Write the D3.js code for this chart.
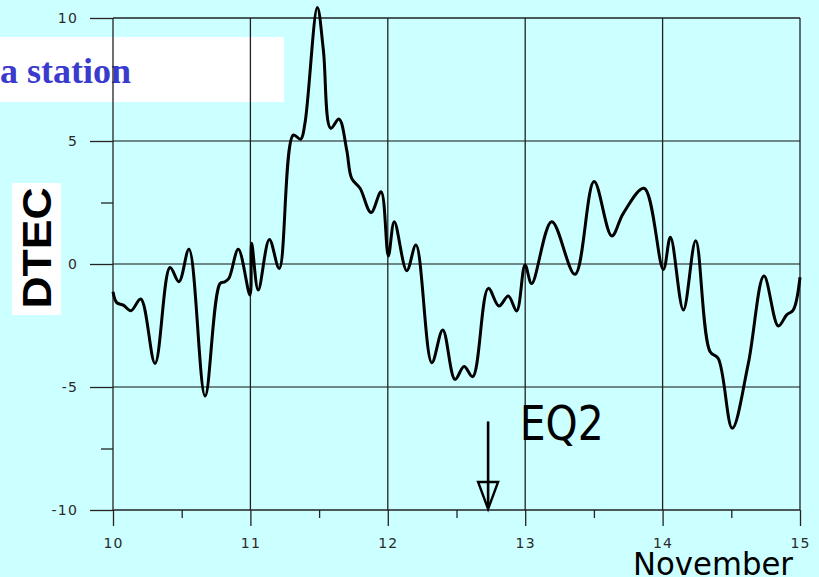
<!DOCTYPE html>
<html>
<head>
<meta charset="utf-8">
<script src="https://cdn.jsdelivr.net/npm/d3@7/dist/d3.min.js"></script>
<style>
  html, body { margin: 0; padding: 0; background: #ccffff; }
  svg { display: block; }
</style>
</head>
<body>
<svg id="chart" width="819" height="577"></svg>
<script>
// DTEC time series, 10–15 November (day of month, fractional)
const days = [
  10.000, 10.027, 10.075, 10.131, 10.202, 10.306, 10.415, 10.480, 10.553, 10.670,
  10.779, 10.815, 10.844, 10.912, 10.997, 11.009, 11.057, 11.138, 11.210,
  11.312, 11.366, 11.397, 11.487, 11.531, 11.584, 11.645, 11.701, 11.737, 11.798,
  11.878, 11.951, 12.004, 12.047, 12.138, 12.205, 12.320, 12.400, 12.489, 12.555,
  12.618, 12.731, 12.809, 12.877, 12.938, 12.999, 13.047, 13.193, 13.362, 13.501,
  13.630, 13.714, 13.865, 14.005, 14.057, 14.151, 14.241, 14.345, 14.405, 14.507,
  14.624, 14.738, 14.842, 14.903, 14.951, 15.000
];
const dtec = [
  -1.13, -1.57, -1.67, -1.90, -1.42, -4.04, -0.14, -0.72, 0.60, -5.37,
  -0.79, -0.72, -0.58, 0.60, -1.26, 0.84, -1.06, 1.00, -0.18,
  5.24, 5.07, 5.72, 10.43, 8.70, 5.52, 5.89, 4.63, 3.48, 3.08,
  2.09, 2.94, 0.33, 1.72, -0.27, 0.77, -4.01, -2.68, -4.69, -4.17,
  -4.58, -0.99, -1.71, -1.30, -1.91, -0.04, -0.79, 1.72, -0.42, 3.35,
  1.14, 2.06, 3.08, -0.22, 1.09, -1.87, 0.95, -3.56, -3.84, -6.68,
  -4.04, -0.49, -2.52, -2.07, -1.87, -0.54
];

const xTicks = [10, 11, 12, 13, 14, 15];
const xMinorTicks = [10.5, 11.5, 12.5, 13.5, 14.5];
const yTicks = [-10, -5, 0, 5, 10];
const yMinorTicks = [-7.5, 2.5];

// Earthquake marker
const eqLabel = "EQ2";
const eqDay = 12.73;
const eqArrowTop = -6.4;

const svg = d3.select("#chart");

const x = d3.scaleLinear().domain([10, 15]).range([113, 800]);
const y = d3.scaleLinear().domain([-10, 10]).range([510, 18]);

// Tick labels use a plain hyphen for negatives
const fmt = d => String(d);

// Title strip
svg.append("rect").attr("x", 0).attr("y", 37).attr("width", 284).attr("height", 65).attr("fill", "#ffffff");
svg.append("text")
  .attr("x", 0).attr("y", 83)
  .attr("font-family", "Liberation Serif, serif")
  .attr("font-weight", "bold")
  .attr("font-size", 36)
  .attr("fill", "#3a3acc")
  .text("a station");

// Horizontal grid lines
svg.append("g").selectAll("line")
  .data([-5, 0, 5])
  .join("line")
  .attr("x1", x(10)).attr("x2", x(15))
  .attr("y1", d => y(d)).attr("y2", d => y(d))
  .attr("stroke", "#4f6060").attr("stroke-width", 1.6);

// Vertical grid lines
svg.append("g").selectAll("line")
  .data([11, 12, 13, 14])
  .join("line")
  .attr("x1", d => x(d)).attr("x2", d => x(d))
  .attr("y1", y(10)).attr("y2", y(-10))
  .attr("stroke", "#222").attr("stroke-width", 1.3);

const tickFont = "DejaVu Sans, sans-serif";

// Left axis
const yAxis = svg.append("g")
  .attr("transform", `translate(${x(10)},0)`)
  .call(d3.axisLeft(y).tickValues(yTicks).tickSize(23).tickPadding(12).tickFormat(fmt));
yAxis.select(".domain").remove();
yAxis.selectAll(".tick line").attr("stroke", "#222").attr("stroke-width", 1.3);
yAxis.selectAll(".tick text")
  .attr("font-family", tickFont).attr("font-size", 14)
  .attr("letter-spacing", 1.2).attr("fill", "#2a2a2a");

const yMinor = svg.append("g")
  .attr("transform", `translate(${x(10)},0)`)
  .call(d3.axisLeft(y).tickValues(yMinorTicks).tickSize(12).tickFormat(""));
yMinor.select(".domain").remove();
yMinor.selectAll(".tick line").attr("stroke", "#222").attr("stroke-width", 1.3);

// Bottom axis
const xAxis = svg.append("g")
  .attr("transform", `translate(0,${y(-10)})`)
  .call(d3.axisBottom(x).tickValues(xTicks).tickSize(16).tickPadding(12).tickFormat(fmt));
xAxis.select(".domain").remove();
xAxis.selectAll(".tick line").attr("stroke", "#222").attr("stroke-width", 1.3);
xAxis.selectAll(".tick text")
  .attr("font-family", tickFont).attr("font-size", 14)
  .attr("letter-spacing", 1.2).attr("fill", "#2a2a2a");

const xMinor = svg.append("g")
  .attr("transform", `translate(0,${y(-10)})`)
  .call(d3.axisBottom(x).tickValues(xMinorTicks).tickSize(8).tickFormat(""));
xMinor.select(".domain").remove();
xMinor.selectAll(".tick line").attr("stroke", "#222").attr("stroke-width", 1.3);

// Plot frame
const frame = svg.append("g").attr("stroke", "#222").attr("stroke-width", 1.3);
frame.append("line").attr("x1", x(10)).attr("x2", x(15)).attr("y1", y(10)).attr("y2", y(10));
frame.append("line").attr("x1", x(10)).attr("x2", x(15)).attr("y1", y(-10)).attr("y2", y(-10));
frame.append("line").attr("x1", x(10)).attr("x2", x(10)).attr("y1", y(10)).attr("y2", y(-10));
frame.append("line").attr("x1", x(15)).attr("x2", x(15)).attr("y1", y(10)).attr("y2", y(-10));

// DTEC curve
const pts = days.map((d, i) => [d, dtec[i]]);
const line = d3.line()
  .x(d => x(d[0]))
  .y(d => y(d[1]))
  .curve(d3.curveCatmullRom.alpha(0.5));
svg.append("path")
  .datum(pts)
  .attr("d", line)
  .attr("fill", "none")
  .attr("stroke", "#000")
  .attr("stroke-width", 3)
  .attr("stroke-linejoin", "round");

// Earthquake arrow
const ax = x(eqDay);
const tipY = y(-10);
svg.append("line")
  .attr("x1", ax).attr("x2", ax)
  .attr("y1", y(eqArrowTop)).attr("y2", tipY - 27)
  .attr("stroke", "#000").attr("stroke-width", 2.6);
svg.append("path")
  .attr("d", `M${ax - 10},${tipY - 28} L${ax + 10},${tipY - 28} L${ax},${tipY - 1} Z`)
  .attr("fill", "#ccffff").attr("stroke", "#000").attr("stroke-width", 2.4)
  .attr("stroke-linejoin", "miter");
svg.append("line")
  .attr("x1", ax).attr("x2", ax)
  .attr("y1", tipY - 28).attr("y2", tipY - 2)
  .attr("stroke", "#000").attr("stroke-width", 2.6);

svg.append("text")
  .attr("x", x(12.96)).attr("y", y(-7.17))
  .attr("font-family", "DejaVu Sans, sans-serif")
  .attr("font-size", 48)
  .attr("textLength", 84)
  .attr("lengthAdjust", "spacingAndGlyphs")
  .attr("fill", "#000")
  .text(eqLabel);

// Axis titles
svg.append("text")
  .attr("x", 793).attr("y", 575)
  .attr("text-anchor", "end")
  .attr("font-family", "DejaVu Sans, sans-serif")
  .attr("font-size", 32)
  .attr("textLength", 160)
  .attr("lengthAdjust", "spacingAndGlyphs")
  .attr("fill", "#000")
  .text("November");

svg.append("rect").attr("x", 12).attr("y", 183).attr("width", 49).attr("height", 132).attr("fill", "#ffffff");
svg.append("text")
  .attr("transform", "translate(50.5,248) rotate(-90)")
  .attr("text-anchor", "middle")
  .attr("font-family", "Liberation Sans, Arial, sans-serif")
  .attr("font-weight", "bold")
  .attr("font-size", 40)
  .attr("textLength", 121)
  .attr("lengthAdjust", "spacingAndGlyphs")
  .attr("fill", "#000")
  .text("DTEC");
</script>
</body>
</html>
